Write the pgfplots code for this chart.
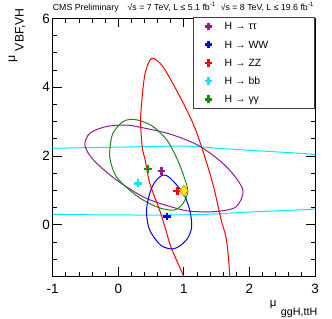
\documentclass[border=0pt]{standalone}
\usepackage{fontspec}
\setmainfont{Liberation Sans}
\usepackage{pgfplots}
\pgfplotsset{compat=1.18}
\definecolor{cpurple}{RGB}{144,28,144}
\definecolor{cblue}{RGB}{0,0,255}
\definecolor{cred}{RGB}{255,0,0}
\definecolor{ccyan}{RGB}{0,235,255}
\definecolor{cgreen}{RGB}{26,138,26}
\definecolor{corange}{RGB}{255,140,0}
\begin{document}
\begin{tikzpicture}
\begin{axis}[
  scale only axis, width=262.3bp, height=258bp,
  xmin=-1, xmax=3, ymin=-1.5, ymax=6,
  xtick={-1,0,1,2,3}, ytick={0,2,4,6},
  minor xtick={-0.8,-0.6,-0.4,-0.2,0.2,0.4,0.6,0.8,1.2,1.4,1.6,1.8,2.2,2.4,2.6,2.8},
  minor ytick={-1,-0.5,0.5,1,1.5,2.5,3,3.5,4.5,5,5.5},
  tick pos=both, tick align=inside,
  major tick length=9bp, minor tick length=4.5bp,
  every tick/.style={black, line width=0.8bp},
  axis line style={line width=1bp},
  /pgf/number format/assume math mode=true,
  ticklabel style={font=\fontsize{13.5}{14}\selectfont, inner sep=0pt},
  xticklabel style={yshift=-7.5bp},
  yticklabel style={xshift=-2.7bp},
  xlabel={{\fontsize{11.5}{12}\selectfont μ}\hspace{4.5bp}\raisebox{-8.4bp}{\fontsize{10.75}{12}\selectfont ggH,ttH}},
  xlabel style={at={(axis description cs:1.0095,-0.0938)}, anchor=north east, inner sep=0pt},
  ylabel={{\fontsize{12.5}{13}\selectfont μ}\hspace{4.5bp}\raisebox{-8.4bp}{\fontsize{12.3}{13}\selectfont VBF,VH}},
  ylabel style={at={(axis description cs:-0.169,1.0407)}, anchor=north east, inner sep=0pt},
  legend cell align=left,
  legend image code/.code={\path (-14bp,0bp) (15bp,0bp); \draw[#1] plot coordinates {(0bp,0bp)};},
  legend style={at={(axis description cs:0.5337,1.006)}, anchor=north west,
    draw=black!75, line width=0.8bp, fill=white, inner xsep=0pt, inner ysep=0pt,
    column sep=0pt, row sep=0pt,
    font=\fontsize{10.5}{12}\selectfont,
    nodes={inner sep=0pt, text height=12.5bp, text depth=5.7bp}},
]
% H -> bb (cyan), huge ellipse
\addplot[ccyan, line width=1bp, smooth cycle, forget plot] coordinates {
(-3,2.10) (-2,2.18) (-1,2.227) (0,2.26) (1,2.29) (1.5,2.23) (2,2.17) (3,2.05) (4,1.88) (5,1.55) (5.4,1.2)
(5,0.80) (4,0.60) (3,0.46) (2,0.375) (1.5,0.32) (0.8,0.288) (0,0.29) (-1,0.31) (-2,0.40) (-3,0.60) (-3.5,1.3)};
% H -> tautau (purple)
\addplot[cpurple, line width=1bp, smooth cycle, forget plot] coordinates {
(-0.51,2.32) (-0.43,2.67) (-0.18,2.86) (0.13,2.90) (0.33,2.84) (0.79,2.64) (1.24,2.29) (1.65,1.69) (1.90,1.02) (1.80,0.53) (1.55,0.40) (1.29,0.38) (0.99,0.43) (0.43,0.77) (-0.03,1.31) (-0.38,1.89)};
% H -> gamma gamma (green)
\addplot[cgreen, line width=1bp, smooth cycle, forget plot] coordinates {
(0.06,2.99) (0.18,3.07) (0.33,3.03) (0.53,2.86) (0.74,2.47) (0.89,1.95) (1.01,1.36) (1.06,0.97) (0.99,0.63) (0.87,0.44) (0.72,0.45) (0.58,0.53) (0.40,0.70) (0.23,0.92) (-0.03,1.40) (-0.13,1.98) (-0.10,2.56) (-0.03,2.81)};
% H -> ZZ (red)
\addplot[cred, line width=1bp, smooth cycle, forget plot] coordinates {
(0.51,4.84) (0.68,4.60) (0.94,3.73) (1.14,2.95) (1.27,2.27) (1.44,1.21) (1.57,0.14) (1.65,-0.44) (1.70,-1.51) (1.68,-2.3) (1.50,-2.75) (1.25,-2.6) (1.12,-2.2) (1.00,-1.51) (0.81,-0.68) (0.71,-0.05) (0.63,0.43) (0.48,1.21) (0.41,1.89) (0.37,2.18) (0.34,2.95) (0.36,3.63) (0.41,4.41)};
% H -> WW (blue)
\addplot[cblue, line width=1bp, smooth cycle, forget plot] coordinates {
(0.68,1.45) (0.79,1.36) (0.99,0.92) (1.09,0.43) (1.12,-0.05) (1.06,-0.38) (0.94,-0.61) (0.82,-0.70) (0.66,-0.61) (0.53,-0.32) (0.46,-0.05) (0.43,0.43) (0.48,0.92) (0.56,1.25)};
% best-fit points
\addplot[cpurple, mark=+, mark size=3.8bp, line width=2.6bp] coordinates {(0.66,1.57)};
\addlegendentry{\makebox[90bp][l]{H → ττ}}
\addplot[cblue, mark=+, mark size=3.8bp, line width=2.6bp] coordinates {(0.74,0.24)};
\addlegendentry{\makebox[90bp][l]{H → WW}}
\addplot[cred, mark=+, mark size=3.8bp, line width=2.6bp] coordinates {(0.90,0.99)};
\addlegendentry{\makebox[90bp][l]{H → ZZ}}
\addplot[ccyan, mark=+, mark size=3.8bp, line width=2.6bp] coordinates {(0.30,1.21)};
\addlegendentry{\makebox[90bp][l]{H → bb}}
\addplot[cgreen, mark=+, mark size=3.8bp, line width=2.6bp] coordinates {(0.455,1.63)};
\addlegendentry{\makebox[90bp][l]{H → γγ}}
% combined best fit
\addplot[forget plot, draw=corange, fill=yellow, mark=diamond*, mark size=5.5bp, line width=0.8bp, mark options={draw=corange, fill=yellow}] coordinates {(1.00,0.99)};
\end{axis}
\node[anchor=base west, inner sep=0pt, font=\fontsize{8.8}{10}\selectfont] at ([yshift=7.8bp]current axis.north west)
  {CMS Preliminary\hspace{9bp}√s = 7 TeV, L ≤ 5.1 fb\textsuperscript{-1}\hspace{5bp}√s = 8 TeV, L ≤ 19.6 fb\textsuperscript{-1}};
\pgfresetboundingbox
\path[use as bounding box] ([xshift=-52.7bp,yshift=-42.5bp]current axis.south west) rectangle ([xshift=17bp,yshift=18.5bp]current axis.north east);
\end{tikzpicture}
\end{document}
